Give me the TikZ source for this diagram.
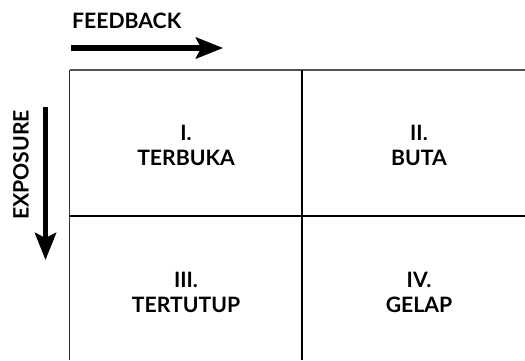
\documentclass[tikz,border=0pt]{standalone}
\usepackage{fontspec}
\setmainfont{Lato}
\usetikzlibrary{arrows.meta}
\begin{document}
\begin{tikzpicture}[x=1pt,y=1pt,
  lbl/.style={font=\fontsize{21.2}{25}\selectfont\bfseries, text=black, inner sep=0pt, anchor=base},
  bigarrow/.style={line width=5.5pt, -{Stealth[length=27pt,width=21pt,inset=5pt]}},
  frame/.style={line width=1.5pt, draw=black}
]
\useasboundingbox (0,0) rectangle (525,360);
% frame lines
\coordinate (tl) at (69.5,290);
\coordinate (tr) at (525,290);
\coordinate (bl) at (69.5,0);
\coordinate (mt) at (302,290);
\coordinate (mb) at (302,0);
\coordinate (ml) at (69.5,144);
\coordinate (mr) at (525,144);
\draw[line width=2.2pt, draw=black!68] (tl) -- (tr);
\draw[line width=1.4pt, draw=black!80] (tl) -- (bl);
\draw[frame] (mt) -- (mb);
\draw[frame] (ml) -- (mr);
% arrows
\coordinate (fa) at (71,312);
\coordinate (fb) at (223,312);
\draw[bigarrow] (fa) -- (fb);
\coordinate (ea) at (45.5,253);
\coordinate (eb) at (45.5,100);
\draw[bigarrow] (ea) -- (eb);
% axis labels
\node[lbl, anchor=base west] (fb-l) at (72,332) {FEEDBACK};
\node[lbl, anchor=center, rotate=90] (ex-l) at (21,195) {EXPOSURE};
% quadrant labels
\node[lbl] (q1a) at (186,220) {I.};
\node[lbl] (q1b) at (186,195) {TERBUKA};
\node[lbl] (q2a) at (419,220) {II.};
\node[lbl] (q2b) at (419,195) {BUTA};
\node[lbl] (q3a) at (186,73) {III.};
\node[lbl] (q3b) at (186,48) {TERTUTUP};
\node[lbl] (q4a) at (419,73) {IV.};
\node[lbl] (q4b) at (419,48) {GELAP};
\end{tikzpicture}
\end{document}
